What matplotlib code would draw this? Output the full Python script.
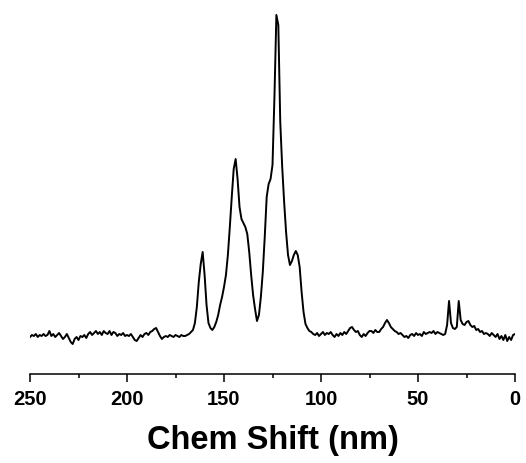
import numpy as np
import matplotlib
matplotlib.use("Agg")
import matplotlib.pyplot as plt
from matplotlib.ticker import MultipleLocator

# chemical shift axis (ppm), 250 -> 0 in 1-ppm steps
shift = list(range(250, -1, -1))

# intensity (baseline = 0), one value per ppm, 250 -> 0
intensity = [
    0, 2, 1, 3, 0, 2, 1, 3, 1, 2,            # 250-241
    6, 1, 3, 0, 2, 4, 1, -2, 0, 3,           # 240-231
    -1, -5, -7, -2, 0, -3, 1, 0, 2, -1,      # 230-221
    3, 5, 2, 4, 6, 3, 5, 2, 6, 4,            # 220-211
    3, 6, 2, 5, 4, 1, 3, 2, 4, 1,            # 210-201
    2, 1, 3, 0, -3, -4, -1, 2, 0, 3,         # 200-191
    4, 2, 5, 6, 8, 9, 5, 1, -2, 0,           # 190-181
    1, 0, 2, 1, 0, 2, 1, 0, 2, 1,            # 180-171
    1, 2, 3, 5, 7, 14, 30, 55, 73, 85,       # 170-161
    62, 32, 14, 9, 7, 10, 15, 22, 32, 40,    # 160-151
    50, 62, 82, 110, 140, 168, 178, 158, 130, 118,  # 150-141
    114, 110, 103, 85, 62, 42, 28, 16, 22, 40,      # 140-131
    65, 100, 140, 153, 158, 172, 240, 322, 312, 215,  # 130-121
    170, 135, 105, 82, 72, 76, 82, 86, 82, 70,      # 120-111
    45, 25, 13, 9, 6, 5, 3, 2, 4, 1,         # 110-101
    3, 5, 2, 4, 3, 5, 2, 0, 3, 1,            # 100-91
    4, 2, 5, 3, 6, 9, 10, 7, 5, 6,           # 90-81
    2, 0, 3, 1, 4, 6, 6, 4, 7, 5,            # 80-71
    5, 8, 10, 14, 17, 14, 10, 8, 6, 5,       # 70-61
    3, 4, 2, 0, 1, -1, 2, 3, 1, 4,           # 60-51
    2, 3, 1, 5, 3, 4, 5, 4, 6, 3,            # 50-41
    5, 4, 3, 2, 3, 12, 36, 14, 9, 8,         # 40-31
    10, 36, 17, 13, 12, 15, 16, 12, 10, 11,  # 30-21
    7, 8, 5, 6, 3, 4, 3, 1, 4, 2,            # 20-11
    0, 3, -2, 1, -3, 2, -4, 0, -3, 2,        # 10-1
    3,                                        # 0
]

x_ticks = [250, 200, 150, 100, 50, 0]

fig = plt.figure(figsize=(5.26, 4.64), dpi=100)
ax = fig.add_axes([30 / 526, 89 / 464, 485 / 526, 365 / 464])
ax.plot(shift, intensity, color="black", linewidth=1.4)

ax.set_xlim(250, 0)
ax.set_ylim(-37, 328)
ax.set_xticks(x_ticks)
ax.xaxis.set_minor_locator(MultipleLocator(25))
ax.set_yticks([])
for s in ["top", "left", "right"]:
    ax.spines[s].set_visible(False)
ax.spines["bottom"].set_linewidth(1.1)
ax.tick_params(axis="x", which="major", direction="out", length=5.5, width=1.1, pad=5)
ax.tick_params(axis="x", which="minor", direction="out", length=3, width=1.1)
for lab in ax.get_xticklabels():
    lab.set_fontfamily("Liberation Sans")
    lab.set_fontweight("bold")
    lab.set_fontsize(14.5)
ax.set_xlabel("Chem Shift (nm)", fontfamily="Liberation Sans", fontweight="bold",
              fontsize=23.5, labelpad=12)

fig.savefig("out.png", dpi=100)
